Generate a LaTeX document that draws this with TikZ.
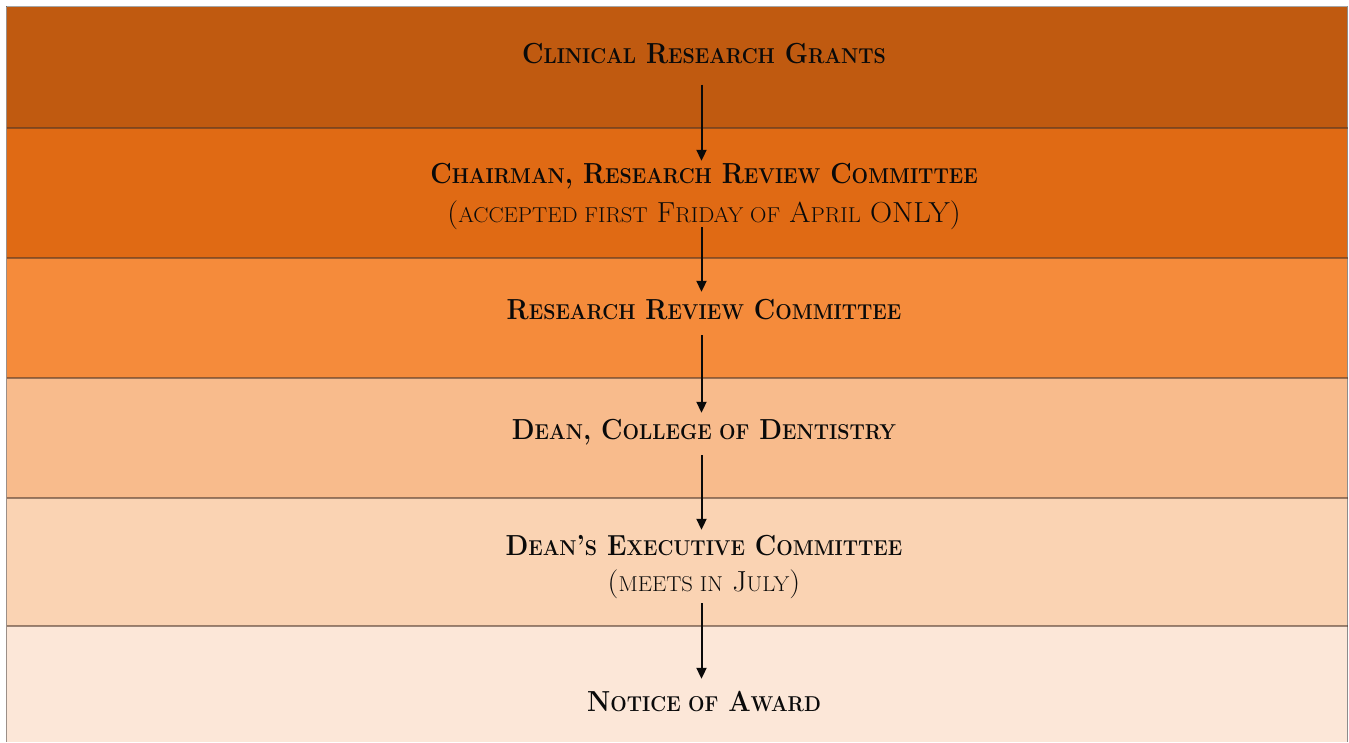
\documentclass[tikz,border=0pt]{standalone}
\usetikzlibrary{arrows.meta}
\definecolor{bandA}{HTML}{C05A10}
\definecolor{bandB}{HTML}{E06A14}
\definecolor{bandC}{HTML}{F58B3B}
\definecolor{bandD}{HTML}{F8BB8C}
\definecolor{bandE}{HTML}{FAD3B3}
\definecolor{bandF}{HTML}{FCE7D8}
\definecolor{sepline}{HTML}{4A3428}
\definecolor{txt}{HTML}{0A0A0A}
\newcommand{\sm}[1]{{\fontsize{21.5}{26}\selectfont #1}}
\newcommand{\tb}[1]{\scalebox{0.91}[1]{#1}}
\newcommand{\tn}[1]{\scalebox{1.055}[1]{#1}}
\tikzset{
  band/.style={fill=#1, draw=none},
  sep/.style={draw=sepline, draw opacity=0.55, line width=1.8pt},
  title/.style={inner sep=0pt, anchor=base, text=txt, text height=21pt, text depth=4pt,
    font=\fontsize{29}{35}\selectfont\bfseries},
  note/.style={inner sep=0pt, anchor=base, text=txt, text height=21pt, text depth=4pt,
    font=\fontsize{29}{35}\selectfont},
  arr/.style={-{Triangle[length=11pt,width=10pt]}, line width=2pt, draw=txt}
}
\begin{document}
\begin{tikzpicture}[x=1pt,y=-1pt]
\useasboundingbox (0,0) rectangle (1349,742);
\fill[white] (0,0) rectangle (1349,742);
% bands
\fill[band=bandA] (6.5,7) rectangle (1347.5,128);
\fill[band=bandB] (6.5,128) rectangle (1347.5,258);
\fill[band=bandC] (6.5,258) rectangle (1347.5,378);
\fill[band=bandD] (6.5,378) rectangle (1347.5,498);
\fill[band=bandE] (6.5,498) rectangle (1347.5,626);
\fill[band=bandF] (6.5,626) rectangle (1347.5,742);
% borders
\draw[draw=black!35, line width=1.2pt] (6,6.5) -- (1348,6.5);
\draw[sep] (6.5,6) -- (6.5,742);
\draw[draw=black!45, line width=1.2pt] (1347.8,6) -- (1347.8,742);
\foreach \yy in {128,258,378,498,626} \draw[sep] (6.5,\yy) -- (1347.5,\yy);
% texts
\node[title] (t1) at (704,63.5) {\tb{C\sm{LINICAL} R\sm{ESEARCH} G\sm{RANTS}}};
\node[title] (t2a) at (704,183) {\tb{C\sm{HAIRMAN}, R\sm{ESEARCH} R\sm{EVIEW} C\sm{OMMITTEE}}};
\node[note] (t2b) at (704,222.5) {\tn{(\sm{ACCEPTED FIRST} F\sm{RIDAY OF} A\sm{PRIL} ONLY)}};
\node[title] (t3) at (704,319) {\tb{R\sm{ESEARCH} R\sm{EVIEW} C\sm{OMMITTEE}}};
\node[title] (t4) at (704,439) {\tb{D\sm{EAN}, C\sm{OLLEGE OF} D\sm{ENTISTRY}}};
\node[title] (t5a) at (704,555) {\tb{D\sm{EAN}'\sm{S} E\sm{XECUTIVE} C\sm{OMMITTEE}}};
\node[note] (t5b) at (704,591) {\tn{(\sm{MEETS IN} J\sm{ULY})}};
\node[title] (t6) at (704,711) {\tb{N\sm{OTICE OF} A\sm{WARD}}};
% arrows
\coordinate (ax) at (701.5,0);
\draw[arr, shorten <=17pt, shorten >=1pt] (t1.south -| ax) -- (t2a.north -| ax);
\draw[arr, shorten <=0.5pt, shorten >=6pt] (t2b.south -| ax) -- (t3.north -| ax);
\draw[arr, shorten <=12pt, shorten >=5pt] (t3.south -| ax) -- (t4.north -| ax);
\draw[arr, shorten <=12pt, shorten >=4pt] (t4.south -| ax) -- (t5a.north -| ax);
\draw[arr, shorten <=8pt, shorten >=11pt] (t5b.south -| ax) -- (t6.north -| ax);
\end{tikzpicture}
\end{document}
